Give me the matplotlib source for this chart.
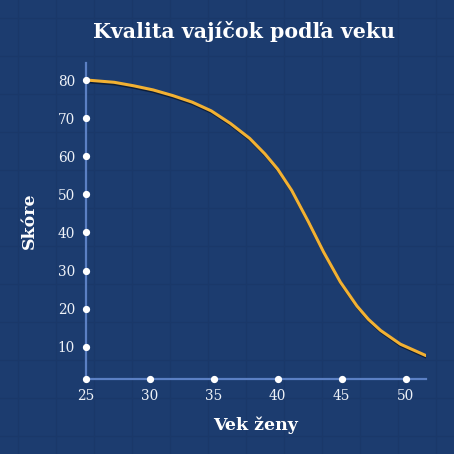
import matplotlib
matplotlib.use("Agg")
import matplotlib.pyplot as plt
import matplotlib.patheffects as pe

# values
ages = [25, 27.2, 28.7, 30.25, 31.8, 33.3, 34.8, 36.3, 37.8, 39.0, 40.0,
        41.1, 42.4, 43.6, 44.9, 46.2, 47.1, 48.05, 49.6, 51.6]
score = [80, 79.4, 78.5, 77.4, 75.9, 74.2, 71.9, 68.6, 64.7, 60.6, 56.6,
         51.0, 42.8, 34.8, 27.0, 20.7, 17.2, 14.3, 10.7, 7.7]
x_ticks = [25, 30, 35, 40, 45, 50]
y_ticks = [10, 20, 30, 40, 50, 60, 70, 80]

BG = "#1c3c6f"
GRID = "#1a3869"
SPINE = "#5b80c4"
LINE = "#f2b133"
FONT = ["DejaVu Serif"]


def main():
    fig = plt.figure(figsize=(4.54, 4.54), dpi=100, facecolor=BG)

    # faint graph-paper background
    bg = fig.add_axes([0, 0, 1, 1])
    bg.set_xlim(0, 454)
    bg.set_ylim(454, 0)
    bg.axis("off")
    for gx in range(18, 454, 38):
        bg.axvline(gx, color=GRID, lw=0.9, zorder=0)
    for gy in range(18, 454, 38):
        bg.axhline(gy, color=GRID, lw=0.9, zorder=0)

    ax = fig.add_axes([86 / 454, 1 - 379 / 454, 340 / 454, 316 / 454])
    ax.patch.set_alpha(0)
    ax.set_xlim(25, 51.6)
    ax.set_ylim(1.57, 84.46)

    ax.plot(ages, score, color=LINE, lw=2.2, solid_capstyle="round", solid_joinstyle="round",
            path_effects=[pe.SimpleLineShadow(offset=(0.6, -1.2), shadow_color="#0b1a33", alpha=0.9),
                          pe.Normal()], zorder=3)

    for s in ["top", "right"]:
        ax.spines[s].set_visible(False)
    for s in ["left", "bottom"]:
        ax.spines[s].set_color(SPINE)
        ax.spines[s].set_linewidth(1.6)

    # tick dots on the axes
    ax.plot(x_ticks, [1.57] * len(x_ticks), "o", color="white", ms=4.2, clip_on=False, zorder=5)
    ax.plot([25] * len(y_ticks), y_ticks, "o", color="white", ms=4.2, clip_on=False, zorder=5)

    ax.set_xticks(x_ticks)
    ax.set_yticks(y_ticks)
    ax.tick_params(length=0, colors="white", labelsize=9.8)
    ax.tick_params(axis="x", pad=7)
    ax.tick_params(axis="y", pad=8)
    for lab in ax.get_xticklabels() + ax.get_yticklabels():
        lab.set_family(FONT)
        lab.set_color("#eef2f8")

    ax.set_xlabel("Vek ženy", family=FONT, fontsize=12.5, fontweight="bold", color="white", labelpad=10)
    ax.set_ylabel("Skóre", family=FONT, fontsize=12.5, fontweight="bold", color="white", labelpad=14)

    fig.text(0.537, 1 - 31 / 454, "Kvalita vajíčok podľa veku", family=FONT, fontsize=14.8,
             fontweight="bold", color="white", ha="center", va="center")

    fig.savefig("out.png", dpi=100, facecolor=BG)


if __name__ == "__main__":
    main()
